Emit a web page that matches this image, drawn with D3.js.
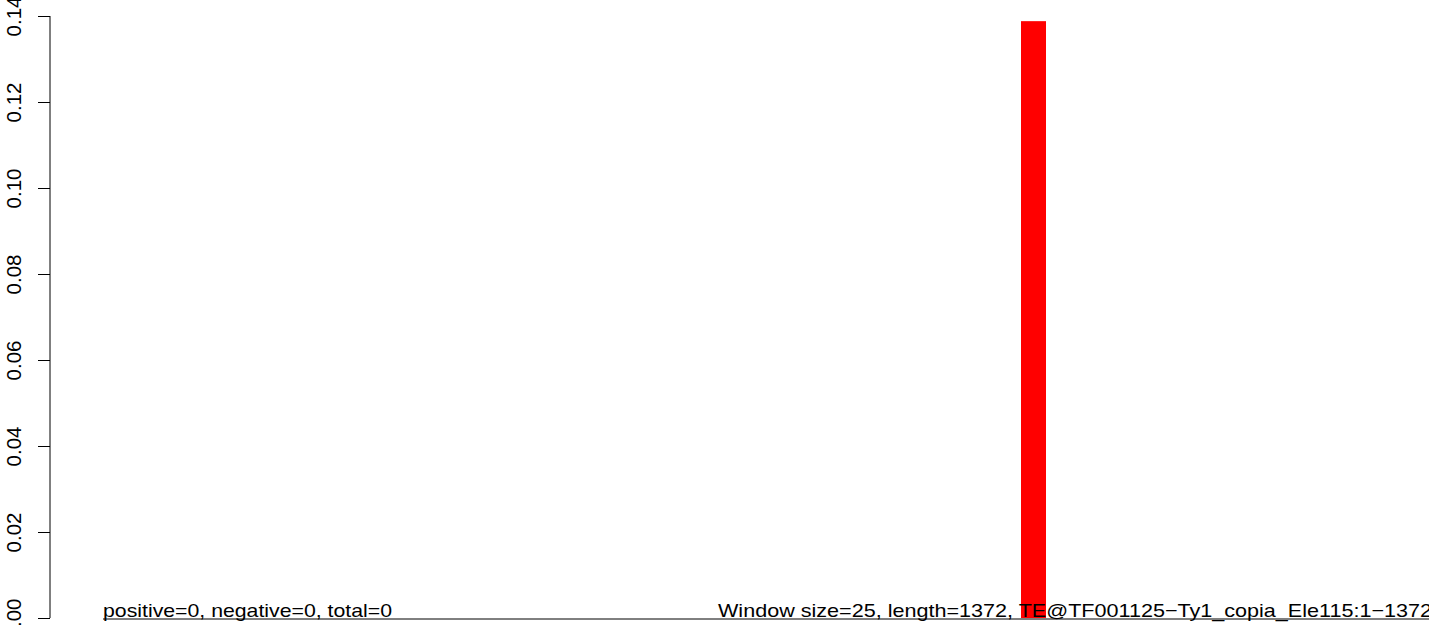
<!DOCTYPE html>
<html>
<head>
<meta charset="utf-8">
<script src="https://d3js.org/d3.v7.min.js"></script>
<style>
  body { margin: 0; background: #fff; }
  svg { display: block; }
  .y.axis text { font-family: "Liberation Sans", Arial, sans-serif; font-size: 20.5px; fill: #000; }
  .label { font-family: "Liberation Sans", Arial, sans-serif; font-size: 19px; fill: #000; }
</style>
</head>
<body>
<div id="chart"></div>
<script>
      // window positions (bases) and the score of each window
      var windowStart = [918];
      var windowEnd = [943];
      var windowValue = [0.1388];
      var yTicks = [0, 0.02, 0.04, 0.06, 0.08, 0.10, 0.12, 0.14];
      var seqLength = 1372;
      var leftText = "positive=0, negative=0, total=0";
      var rightText = "Window size=25, length=1372, TE@TF001125\u2212Ty1_copia_Ele115:1\u22121372";

      var totalWidth = 1429, totalHeight = 625;

      var svg = d3.select("#chart").append("svg")
          .attr("width", totalWidth)
          .attr("height", totalHeight);

      ////// Scales //////
      var xScale = d3.scaleLinear()
          .domain([0, seqLength])
          .range([103, 103 + seqLength]);
      var yScale = d3.scaleLinear()
          .domain([0, 0.14])
          .range([618, 16]);

      ////// Y axis (R style: ticks left, rotated labels) //////
      var yAxis = d3.axisLeft(yScale)
          .tickValues(yTicks)
          .tickSize(12)
          .tickPadding(0)
          .tickFormat(d3.format(".2f"));

      var yg = svg.append("g")
          .attr("class", "y axis")
          .attr("transform", "translate(50,0)")
          .call(yAxis);

      yg.select(".domain")
          .attr("d", "M0," + yScale(0) + "V" + yScale(0.14))
          .attr("stroke", "#000");
      yg.selectAll(".tick line").attr("stroke", "#000");
      yg.selectAll(".tick text")
          .attr("x", null).attr("dy", null)
          .attr("text-anchor", "middle")
          .attr("transform", "translate(-29,0) rotate(-90)");

      // bars
      svg.append("g")
          .selectAll("rect")
          .data(windowValue)
          .enter()
          .append("rect")
          .attr("x", function(d, i) { return xScale(windowStart[i]); })
          .attr("width", function(d, i) { return xScale(windowEnd[i]) - xScale(windowStart[i]); })
          .attr("y", function(d) { return yScale(d); })
          .attr("height", function(d) { return yScale(0) - yScale(d); })
          .attr("fill", "#ff0000");

      // baseline
      svg.append("line")
          .attr("x1", xScale(0)).attr("x2", totalWidth)
          .attr("y1", 619).attr("y2", 619)
          .attr("stroke", "#000")
          .attr("stroke-width", 1);

      svg.append("text")
          .attr("class", "label")
          .attr("x", xScale(0))
          .attr("y", 617)
          .attr("textLength", 289)
          .attr("lengthAdjust", "spacingAndGlyphs")
          .text(leftText);

      svg.append("text")
          .attr("class", "label")
          .attr("x", 718)
          .attr("y", 617)
          .attr("textLength", 714)
          .attr("lengthAdjust", "spacingAndGlyphs")
          .text(rightText);
</script>
</body>
</html>
